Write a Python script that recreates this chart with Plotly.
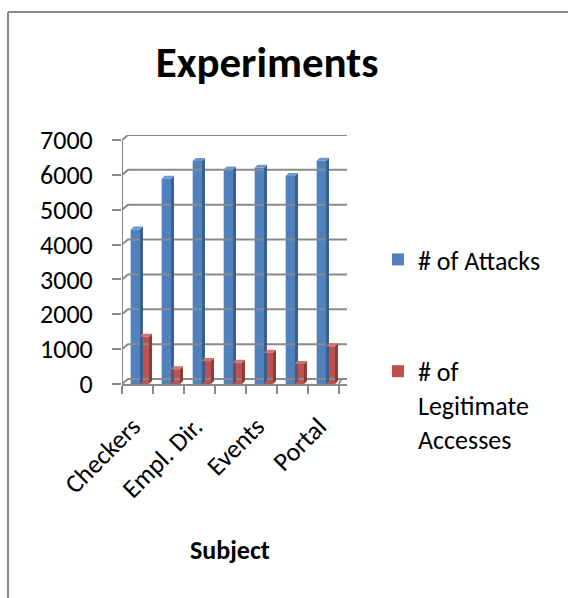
import plotly.graph_objects as go

# ---- data ----
categories = ["Checkers", "Office Talk", "Empl. Dir.", "Bookstore", "Events", "Classifieds", "Portal"]
attacks = [4431, 5888, 6398, 6154, 6207, 5968, 6403]
legit = [1359, 424, 658, 607, 900, 574, 1080]
y_ticks = [0, 1000, 2000, 3000, 4000, 5000, 6000, 7000]
series_names = ["# of Attacks", "# of<br>Legitimate<br>Accesses"]

# ---- geometry (pixels) ----
W, H = 568, 598
def fx(p):
    return p / W
def fy(p):
    return 1 - p / H

X0, X1 = 122, 347          # plot area left/right
Y0, YTOP = 384, 135        # value 0 on front plane, top of plot area
CAT_PX = 31                # width of one category
Y7000 = 140                # pixel of the 7000 tick on the front plane
UX = 1 / CAT_PX            # data units per pixel (x)
UY = 7000 / (Y0 - Y7000)   # data units per pixel (y)
WALL_DX, WALL_DY = 6, 5    # depth offset of back wall
BAR_DX, BAR_DY = 3, 3      # depth of the bars
GRID = "#8a8a8a"
FONT = "Carlito, Lato, sans-serif"
FS = 26

x_max = (X1 - X0) * UX
y_max = (Y0 - YTOP) * UY

fig = go.Figure()

# back wall: gridlines shifted into depth, connectors to front axis, front axis line
wx, wy = [], []
for v in y_ticks:
    wx += [0, WALL_DX * UX, x_max, None]
    wy += [v, v + WALL_DY * UY, v + WALL_DY * UY, None]
wx += [0, 0, None]
wy += [0, y_ticks[-1], None]
wx += [len(categories), len(categories) + 2 * UX, None]
wy += [0, WALL_DY * UY, None]
fig.add_trace(go.Scatter(x=wx, y=wy, mode="lines", line=dict(color=GRID, width=2),
                         showlegend=False, hoverinfo="skip", cliponaxis=False))

def add_series(values, offset, width, front, side, top, name, group):
    xs = [i + offset for i in range(len(values))]
    fig.add_trace(go.Bar(x=xs, y=values, width=width, name=name, legendgroup=group,
                         marker=dict(color=front, line=dict(width=0))))
    sx, sy, tx, ty = [], [], [], []
    for c, v in zip(xs, values):
        xl, xr = c - width / 2, c + width / 2
        ddx, ddy = BAR_DX * UX, BAR_DY * UY
        sx += [xr, xr + ddx, xr + ddx, xr, xr, None]
        sy += [0, ddy, v + ddy, v, 0, None]
        tx += [xl, xl + ddx, xr + ddx, xr, xl, None]
        ty += [v, v + ddy, v + ddy, v, v, None]
    fig.add_trace(go.Scatter(x=sx, y=sy, fill="toself", fillcolor=side, mode="lines",
                             line=dict(width=0, color=side), showlegend=False,
                             legendgroup=group, hoverinfo="skip"))
    fig.add_trace(go.Scatter(x=tx, y=ty, fill="toself", fillcolor=top, mode="lines",
                             line=dict(width=0, color=top), showlegend=False,
                             legendgroup=group, hoverinfo="skip"))

add_series(attacks, 0.43, 0.30, "#4F81BD", "#395F8F", "#6C98D2", series_names[0], "attacks")
add_series(legit, 0.72, 0.30, "#C0504D", "#8C3A38", "#D2716E", series_names[1], "legit")

fig.update_layout(
    width=W, height=H,
    margin=dict(l=0, r=0, t=0, b=0, autoexpand=False),
    paper_bgcolor="white", plot_bgcolor="rgba(0,0,0,0)",
    barmode="overlay",
    font=dict(family=FONT, color="black"),
    title=dict(text="<b>Experiments</b>", x=fx(267), xanchor="center",
               y=fy(62), yanchor="middle", font=dict(size=43, family=FONT)),
    xaxis=dict(domain=[fx(X0), fx(X1)], range=[0, x_max], showgrid=False, zeroline=False,
               automargin=False, showline=True, linecolor=GRID, linewidth=2,
               tickmode="array", tickvals=[i + 0.35 for i in range(0, len(categories), 2)],
               ticktext=categories[::2], ticks="", tickangle=-45, ticklabelstandoff=15,
               tickfont=dict(size=FS),
               minor=dict(tickmode="linear", tick0=0, dtick=1, ticks="outside",
                          ticklen=8, tickcolor=GRID, tickwidth=2, showgrid=False)),
    yaxis=dict(domain=[fy(Y0), fy(YTOP)], range=[0, y_max], showgrid=False, zeroline=False,
               automargin=False, showline=False, tickmode="array", tickvals=y_ticks,
               ticks="outside", ticklen=9, tickcolor=GRID, tickwidth=2, ticklabelstandoff=14,
               tickfont=dict(size=FS)),
    legend=dict(x=fx(378), y=fy(236), xanchor="left", yanchor="top",
                font=dict(size=FS), tracegroupgap=75, valign="top",
                bgcolor="rgba(0,0,0,0)"),
    showlegend=True,
    annotations=[dict(text="<b>Subject</b>", x=fx(230), y=fy(550), xref="paper", yref="paper",
                      showarrow=False, xanchor="center", yanchor="middle",
                      font=dict(size=FS, family=FONT))],
    shapes=[
        dict(type="line", xref="paper", yref="paper", x0=fx(8), x1=fx(8), y0=fy(12), y1=0,
             line=dict(color=GRID, width=2)),
        dict(type="line", xref="paper", yref="paper", x0=fx(8), x1=1, y0=fy(12), y1=fy(12),
             line=dict(color=GRID, width=2)),
    ],
)

fig.write_html("out.html")
